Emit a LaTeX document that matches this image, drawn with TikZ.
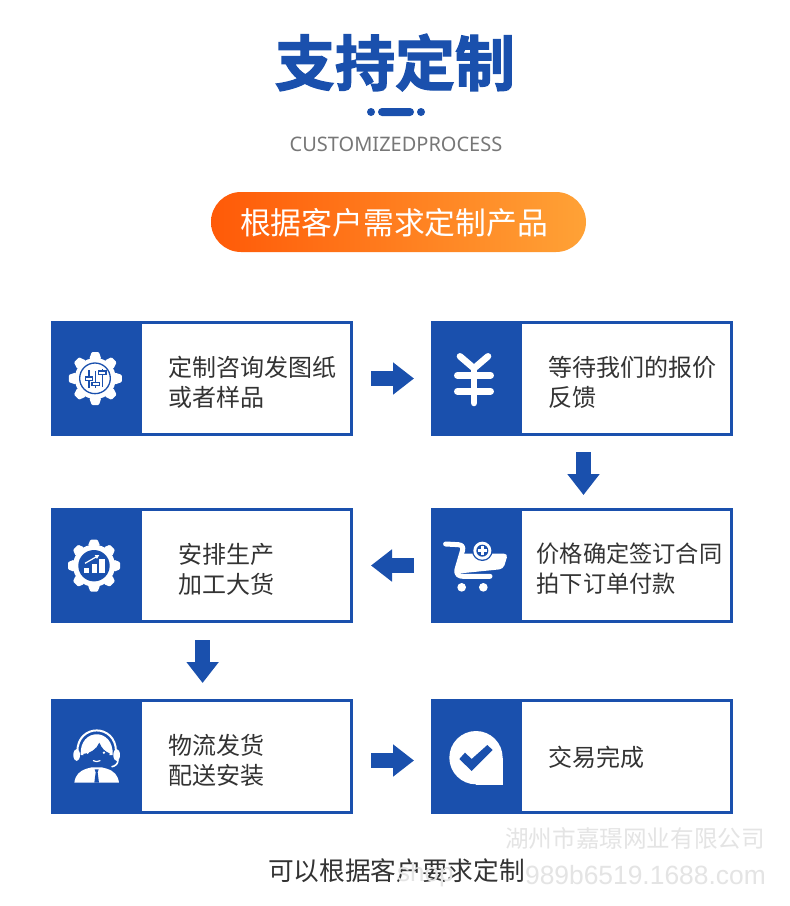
\documentclass[tikz,border=0pt]{standalone}
\usepackage{fontspec}
\usetikzlibrary{arrows.meta,calc}
\newfontfamily\cjkfont{Noto Sans CJK SC}
\newfontfamily\titlefont[FakeBold=2.2]{Noto Sans CJK SC Bold}
\newfontfamily\latinfont{Noto Sans}
\newfontfamily\markfont{Liberation Sans}
\definecolor{brandblue}{HTML}{1A50AD}
\definecolor{bodytext}{HTML}{333333}
\definecolor{subtext}{HTML}{777777}
\definecolor{wmark}{HTML}{E4E4E4}
\definecolor{pillA}{HTML}{FF5A08}
\definecolor{pillB}{HTML}{FFA236}
\tikzset{
  stepbox/.style={draw=brandblue,line width=3pt,fill=white,minimum width=299pt,minimum height=112pt,inner sep=0pt},
  steptext/.style={anchor=west,align=left,text=bodytext,inner sep=0pt,font=\cjkfont\fontsize{24}{30}\selectfont},
  fatarrow/.style={draw=brandblue,line width=15pt,-{Triangle[length=21pt,width=31pt]}},
  iconline/.style={draw=white,line cap=round,line join=round},
  wmarktext/.style={text=wmark,inner sep=0pt},
}
\newcommand{\gearicon}[4]{%
  \fill[white] (#1,#2) circle[radius=#4];
  \foreach \a in {0,45,...,315}{
    \fill[white,shift={(#1,#2)},rotate=\a,rounded corners=1pt]
      (-6,{-(#4-1)}) -- (-3.6,-#3) -- (3.6,-#3) -- (6,{-(#4-1)}) -- cycle;
  }%
}
\begin{document}
\begin{tikzpicture}[x=1pt,y=-1pt]
\useasboundingbox (0,0) rectangle (790,906);
\fill[white] (0,0) rectangle (790,906);

% heading
\node (title) [text=brandblue,inner sep=0pt,font=\titlefont\fontsize{60}{60}\selectfont] at (395,62.5) {支持定制};
\fill[brandblue] (371,112) circle[radius=4];
\fill[brandblue] (421,112) circle[radius=4];
\fill[brandblue,rounded corners=4pt] (378,108) rectangle (414,116);
\node (sub) [text=subtext,inner sep=0pt,font=\latinfont\fontsize{20}{22}\selectfont] at (396,144.5) {CUSTOMIZEDPROCESS};
\node (pill) [rounded corners=30pt,left color=pillA,right color=pillB,minimum width=375pt,minimum height=60pt,inner sep=0pt] at (398.5,222) {};
\node (pilltext) [text=white,inner sep=0pt,font=\cjkfont\fontsize{30.8}{32}\selectfont] at (394,223) {根据客户需求定制产品};

% boxes
\node (b1) [stepbox] at (202,378.5) {};
\node (b2) [stepbox] at (582,378.5) {};
\node (b3) [stepbox] at (202,565.5) {};
\node (b4) [stepbox] at (582,565.5) {};
\node (b5) [stepbox] at (202,756.5) {};
\node (b6) [stepbox] at (582,756.5) {};
\foreach \b in {b1,b2,b3,b4,b5,b6}{
  \fill[brandblue] (\b.north west) rectangle ++(91,115);
}

% box texts
\node (t1) [steptext] at (168,382) {定制咨询发图纸\\或者样品};
\node (t2) [steptext] at (548,382) {等待我们的报价\\反馈};
\node (t3) [steptext] at (178,569) {安排生产\\加工大货};
\node (t4) [steptext,font=\cjkfont\fontsize{23.2}{30}\selectfont] at (536.5,569) {价格确定签订合同\\拍下订单付款};
\node (t5) [steptext] at (168,760) {物流发货\\配送安装};
\node (t6) [steptext] at (548,757) {交易完成};

% connectors
\coordinate (c2) at ($(b2.south)+(1.5,0)$);
\coordinate (c4) at ($(b4.north)+(1.5,0)$);
\coordinate (c3) at ($(b3.south)+(0.6,0)$);
\coordinate (c5n) at ($(b5.north)+(0.6,0)$);
\coordinate (c5) at ($(b5.east)+(0,4)$);
\coordinate (c6) at ($(b6.west)+(0,4)$);
\draw[fatarrow,shorten <=18pt,shorten >=17pt] (b1.east) -- (b2.west);
\draw[fatarrow,shorten <=16pt,shorten >=13pt] (c2) -- (c4);
\draw[fatarrow,shorten <=17pt,shorten >=18pt] (b4.west) -- (b3.east);
\draw[fatarrow,shorten <=17pt,shorten >=16pt] (c3) -- (c5n);
\draw[fatarrow,shorten <=18pt,shorten >=17pt] (c5) -- (c6);

% icon 1: gear with sliders
\gearicon{95.3}{378.5}{26.5}{20.5}
\begin{scope}[shift={(40,310)},x=0.3333pt,y=-0.3333pt]
  \draw[brandblue,line width=1.3pt] (165,205) circle[radius=46];
  \draw[brandblue,line width=1.3pt] (147,180) -- (147,235) (167,184) -- (167,235) (187,178) -- (187,230);
  \draw[brandblue,line width=1.2pt,fill=white] (136,201) rectangle (158,211);
  \draw[brandblue,line width=1.2pt,fill=white] (156,217) rectangle (178,227);
  \draw[brandblue,line width=1.2pt,fill=white] (176,183) rectangle (198,193);
\end{scope}

% icon 2: yen
\begin{scope}[shift={(425,310)},x=0.3333pt,y=-0.3333pt]
  \draw[iconline,line width=6.6pt] (105,139) -- (147,175) -- (189,139);
  \draw[iconline,line width=6.6pt] (147,175) -- (147,279);
  \draw[iconline,line width=6.6pt] (97,196) -- (197,196);
  \draw[iconline,line width=6.6pt] (97,244) -- (197,244);
\end{scope}

% icon 3: gear with bars
\gearicon{94}{565.7}{26}{21}
\fill[brandblue] (94,565.7) circle[radius=15.7];
\begin{scope}[shift={(40,500)},x=0.3333pt,y=-0.3333pt]
  \fill[white] (133,205) rectangle (148,220);
  \fill[white] (155,192) rectangle (170,220);
  \fill[white] (178,177) rectangle (195,220);
  \draw[white,line width=1.2pt,-{Triangle[length=4pt,width=4pt]}] (135,190) -- (178,165);
\end{scope}

% icon 4: cart
\begin{scope}[shift={(440,535)},x=0.3333pt,y=-0.3333pt]
  \fill[white,rounded corners=4pt] (60,56) -- (204,56) -- (190,102) -- (52,116) -- cycle;
  \draw[iconline,line width=5pt] (17,27) -- (55,29) .. controls (66,30) and (70,36) .. (68,45) -- (51,103) .. controls (48,118) and (56,124) .. (70,124) -- (150,124);
  \fill[white] (65,157) circle[radius=13];
  \fill[white] (130,157) circle[radius=13];
  \fill[brandblue] (127,47) circle[radius=31];
  \fill[white] (127,47) circle[radius=27];
  \fill[brandblue] (127,47) circle[radius=18];
  \draw[white,line width=3pt] (114,47) -- (140,47) (127,34) -- (127,60);
\end{scope}

% icon 5: person with headset
\begin{scope}[shift={(40,690)},x=0.3333pt,y=-0.3333pt]
  \draw[iconline,line width=2pt] (112,185) .. controls (112,100) and (228,100) .. (228,185);
  \fill[white] (110,195) ellipse[x radius=10,y radius=18];
  \fill[white] (230,195) ellipse[x radius=10,y radius=18];
  \draw[iconline,line width=1.6pt] (234,210) .. controls (234,222) and (226,228) .. (216,230);
  \fill[white] (122,195) .. controls (118,112) and (222,112) .. (218,195) -- cycle;
  \fill[brandblue] (130,192) .. controls (150,190) and (170,178) .. (178,158) .. controls (185,175) and (195,185) .. (209,190) .. controls (207,215) and (190,232) .. (170,232) .. controls (150,232) and (132,215) .. (130,192) -- cycle;
  \fill[white] (143,188) circle[radius=4];
  \fill[white] (192,188) circle[radius=4];
  \draw[iconline,line width=1.2pt] (160,212) .. controls (165,216) and (175,216) .. (180,212);
  \fill[white] (103,278) .. controls (106,255) and (118,243) .. (140,236) -- (155,232) -- (185,232) -- (200,236) .. controls (222,243) and (234,255) .. (237,278) -- cycle;
  \fill[brandblue] (164,238) -- (176,238) -- (173,247) -- (177,278) -- (163,278) -- (167,247) -- cycle;
\end{scope}

% icon 6: check mark drop
\begin{scope}[shift={(425,690)},x=0.3333pt,y=-0.3333pt]
  \fill[white] (153,203) circle[radius=80];
  \fill[white] (153,203) rectangle (233,284);
  \fill[brandblue] (103,207) -- (120,188) -- (140,207) -- (187,165) -- (203,180) -- (140,243) -- cycle;
\end{scope}

% footer and watermark
\node (foot) [text=bodytext,inner sep=0pt,font=\cjkfont\fontsize{25.7}{28}\selectfont] at (396.5,871) {可以根据客户要求定制};
\node (wm1) [wmarktext,font=\cjkfont\fontsize{23.6}{26}\selectfont] at (635,838) {湖州市嘉璟网业有限公司};
\node (wm2) [wmarktext,anchor=west,font=\markfont\fontsize{26}{28}\selectfont] at (397,875) {shop};
\node (wm3) [wmarktext,anchor=east,font=\markfont\fontsize{26.4}{28}\selectfont] at (766,875) {989b6519.1688.com};
\end{tikzpicture}
\end{document}
